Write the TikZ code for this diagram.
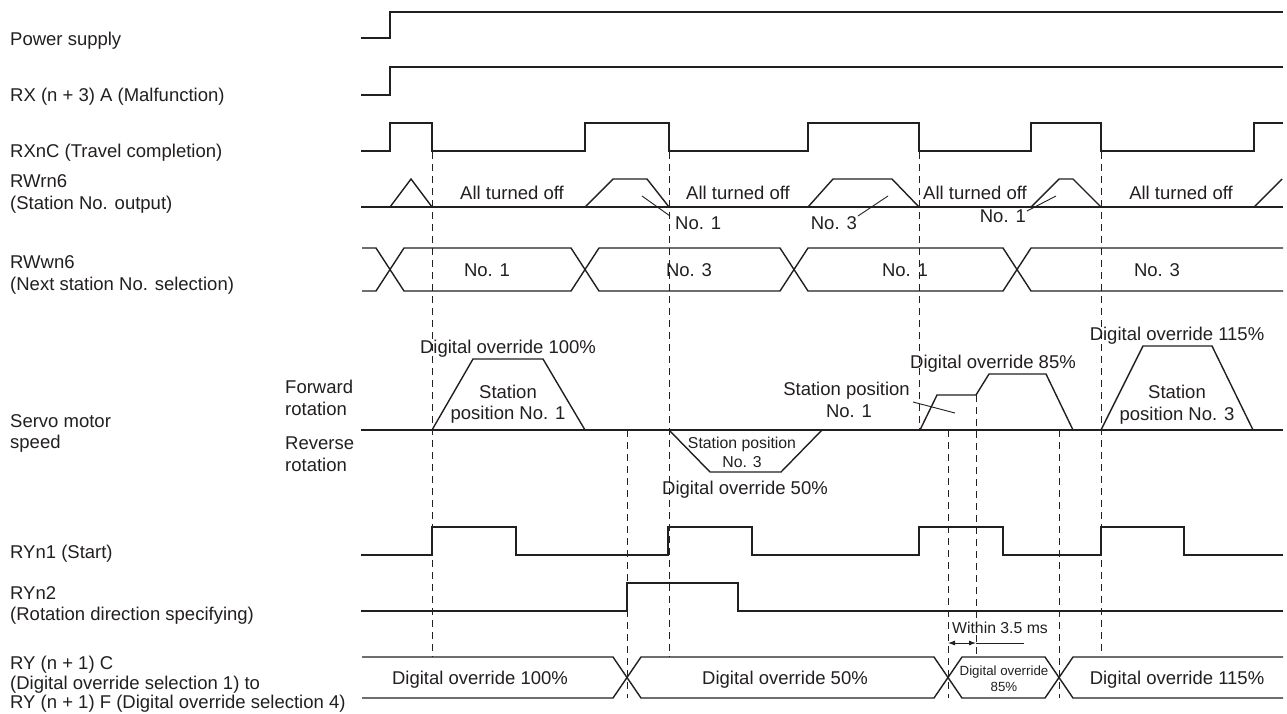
\documentclass[tikz,border=0pt]{standalone}
\usepackage{fontspec}
\setmainfont{Liberation Sans}
\usetikzlibrary{arrows.meta}
\definecolor{ink}{HTML}{231F20}
\begin{document}
\begin{tikzpicture}[x=1pt,y=-1pt,
  sig/.style={draw=ink,line width=1.4pt,line join=miter},
  thin/.style={draw=ink,line width=0.9pt},
  dsh/.style={draw=ink,line width=0.9pt,dash pattern=on 7pt off 5pt},
  txt/.style={inner sep=0pt,text height=13.3pt,text depth=0pt,text=ink,font=\fontsize{18.5}{22}\selectfont},
  stxt/.style={inner sep=0pt,text height=11.4pt,text depth=0pt,text=ink,font=\fontsize{15.8}{18}\selectfont},
  ttxt/.style={inner sep=0pt,text height=9.6pt,text depth=0pt,text=ink,font=\fontsize{13.3}{16}\selectfont},
  lab/.style={txt,anchor=west}]
\fill[white] (0,0) rectangle (1287,713);
\useasboundingbox (0,0) rectangle (1287,713);

% ---- left labels
\node[lab] (lpow) at (10,39) {Power supply};
\node[lab] (lmal) at (10,95) {RX (n + 3) A (Malfunction)};
\node[lab] (ltrv) at (10,151) {RXnC (Travel completion)};
\node[lab] (lrwr) at (10,181) {RWrn6};
\node[lab] (lrwr2) at (10,203) {(Station No. output)};
\node[lab] (lrww) at (10,262) {RWwn6};
\node[lab] (lrww2) at (10,284) {(Next station No. selection)};
\node[lab] (lsrv) at (10,421) {Servo motor};
\node[lab] (lsrv2) at (10,442) {speed};
\node[lab] (lfwd) at (285,387) {Forward};
\node[lab] (lfwd2) at (285,409) {rotation};
\node[lab] (lrev) at (285,443) {Reverse};
\node[lab] (lrev2) at (285,465) {rotation};
\node[lab] (lst) at (10,552) {RYn1 (Start)};
\node[lab] (lrot) at (10,593) {RYn2};
\node[lab] (lrot2) at (10,614) {(Rotation direction specifying)};
\node[lab] (lov) at (10,663) {RY (n + 1) C};
\node[lab] (lov2) at (10,682.5) {(Digital override selection 1) to};
\node[lab] (lov3) at (10,702) {RY (n + 1) F (Digital override selection 4)};

% ---- dashed timing lines
\draw[dsh] (432,152) -- (432,657);
\draw[dsh] (669,152) -- (669,657);
\draw[dsh] (919,152) -- (919,430);
\draw[dsh] (1101,152) -- (1101,652);
\draw[dsh] (627,430) -- (627,698);
\draw[dsh] (948,430) -- (948,698);
\draw[dsh] (976,395) -- (976,657);
\draw[dsh] (1059,430) -- (1059,698);

% ---- Power supply / Malfunction
\draw[sig] (361,38) -- (390,38) -- (390,12) -- (1283,12);
\draw[sig] (361,95) -- (390,95) -- (390,67) -- (1283,67);

% ---- RXnC
\draw[sig] (361,151) -| (390,123) -| (432,151) -| (585,123) -| (669,151) -| (808,123) -| (919,151) -| (1031,123) -| (1101,151) -| (1254,123) -- (1283,123);

% ---- RWrn6
\draw[sig] (361,207) -- (1283,207);
\draw[sig] (390,207) -- (411,179) -- (432,207);
\draw[sig] (585,207) -- (613,179) -- (647,179) -- (669,207);
\draw[sig] (808,207) -- (833,179) -- (892,179) -- (919,207);
\draw[sig] (1031,207) -- (1059,179) -- (1073,179) -- (1101,207);
\draw[sig] (1254,207) -- (1282,179);
\node[txt] (aoff1) at (512,193) {All turned off};
\node[txt] (aoff2) at (738,193) {All turned off};
\node[txt] (aoff3) at (975,193) {All turned off};
\node[txt] (aoff4) at (1181,193) {All turned off};
\coordinate (p1) at (642,196);
\coordinate (p2) at (888,196);
\coordinate (p3) at (1056,196);
\node[txt,anchor=west] (o1) at (675,223) {No. 1};
\node[txt,anchor=east] (o2) at (857,223) {No. 3};
\node[txt,anchor=east] (o3) at (1026,216) {No. 1};
\draw[thin] (p1) -- (670,216);
\draw[thin] (p2) -- (858,216);
\draw[thin] (p3) -- (1027,211);

% ---- RWwn6 bus
\draw[sig] (362,248) -- (376,248) -- (404,291) -- (571,291) -- (599,248) -- (780,248) -- (808,291) -- (1003,291) -- (1031,248) -- (1283,248);
\draw[sig] (362,291) -- (376,291) -- (404,248) -- (571,248) -- (599,291) -- (780,291) -- (808,248) -- (1003,248) -- (1031,291) -- (1283,291);
\node[txt] (n1) at (487,270) {No. 1};
\node[txt] (n2) at (689,270) {No. 3};
\node[txt] (n3) at (905,270) {No. 1};
\node[txt] (n4) at (1157,270) {No. 3};

% ---- Servo motor speed
\draw[sig] (361,430) -- (1283,430);
\draw[sig] (432,430) -- (473,359) -- (543,359) -- (585,430);
\draw[sig] (669,430) -- (710,472) -- (781,472) -- (822,430);
\draw[sig] (920,430) -- (937,395) -- (976,395) -- (989,374) -- (1046,374) -- (1073,430);
\draw[sig] (1101,430) -- (1143,346) -- (1212,346) -- (1253,430);
\node[txt] (d100) at (508,347) {Digital override 100\%};
\node[txt] (s1a) at (508,392) {Station};
\node[txt] (s1b) at (508,413) {position No. 1};
\node[stxt] (s3a) at (742,443) {Station position};
\node[stxt] (s3b) at (742,462) {No. 3};
\node[txt] (d50) at (745,488) {Digital override 50\%};
\node[txt] (d85) at (993,362) {Digital override 85\%};
\node[txt,anchor=east] (s4a) at (910,389) {Station position};
\node[txt] (s4b) at (849,411) {No. 1};
\draw[thin] (913,402) -- (955,413);
\node[txt] (d115) at (1177,334) {Digital override 115\%};
\node[txt] (s5a) at (1177,392) {Station};
\node[txt] (s5b) at (1177,414) {position No. 3};

% ---- RYn1
\draw[sig] (361,555) -| (432,527) -| (516,555) -| (668,527) -| (752,555) -| (919,527) -| (1003,555) -| (1101,527) -| (1184,555) -- (1283,555);

% ---- RYn2
\draw[sig] (361,611) -| (627,583) -| (738,611) -- (1283,611);

% ---- Digital override bus
\draw[sig] (362,657) -- (613,657) -- (641,698) -- (934,698) -- (962,657) -- (1045,657) -- (1073,698) -- (1283,698);
\draw[sig] (362,698) -- (613,698) -- (641,657) -- (934,657) -- (962,698) -- (1045,698) -- (1073,657) -- (1283,657);
\node[txt] (b100) at (480,678) {Digital override 100\%};
\node[txt] (b50) at (785,678) {Digital override 50\%};
\node[ttxt] (b85a) at (1004,671) {Digital override};
\node[ttxt] (b85b) at (1004,687) {85\%};
\node[txt] (b115) at (1177,678) {Digital override 115\%};

% ---- Within 3.5 ms
\node[stxt] (w35) at (1000,628) {Within 3.5 ms};
\coordinate (wa) at (948,643);
\coordinate (wb) at (976,643);
\coordinate (wc) at (1024,643);
\draw[thin,{Latex[length=7pt,width=5pt]}-{Latex[length=7pt,width=5pt]}] (wa) -- (wb);
\draw[thin] (wb) -- (wc);
\end{tikzpicture}
\end{document}
